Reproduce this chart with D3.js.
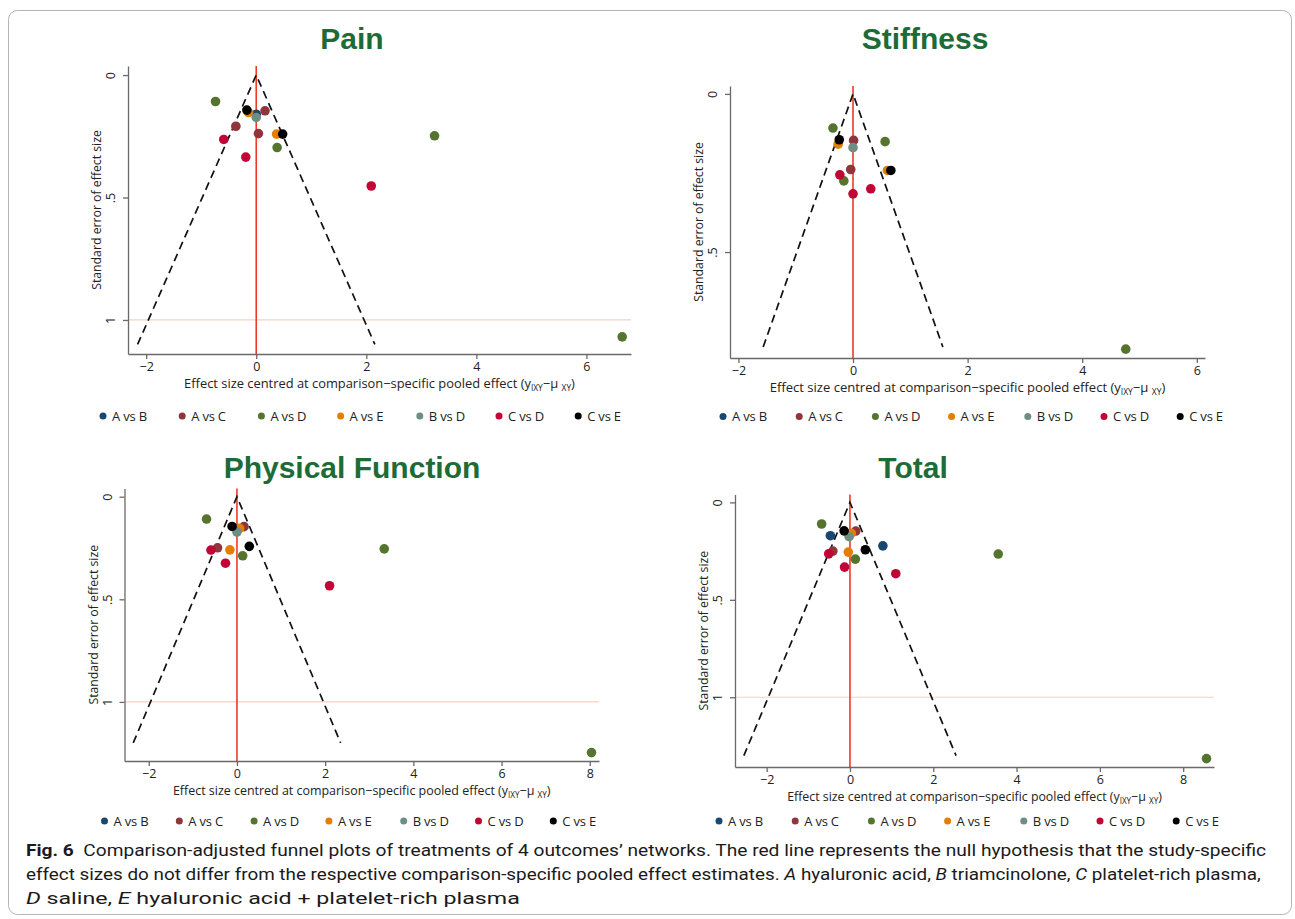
<!DOCTYPE html>
<html>
<head>
<meta charset="utf-8">
<script src="https://cdn.jsdelivr.net/npm/d3@7"></script>
<style>
  html, body { margin: 0; padding: 0; background: #ffffff; }
  svg { display: block; }
  .tick text { font-family: "Open Sans", "Noto Sans", sans-serif; fill: #222; }
</style>
</head>
<body>
<svg id="fig" width="1295" height="919"></svg>
<script>
// Treatment comparisons and their marker colours
const comparisons = ["A vs B", "A vs C", "A vs D", "A vs E", "B vs D", "C vs D", "C vs E"];
const comparisonColors = ["#1a476f", "#90353b", "#55752f", "#e37e00", "#6e8e84", "#c10534", "#000000"];

// Study points: [comparison, centred effect size, standard error]
const painPoints = [
  ["A vs B", 0.00, 0.160],
  ["A vs C", 0.16, 0.146], ["A vs C", -0.37, 0.209], ["A vs C", 0.04, 0.239],
  ["A vs D", -0.74, 0.108], ["A vs D", 0.38, 0.296], ["A vs D", 3.24, 0.248], ["A vs D", 6.65, 1.069],
  ["A vs E", -0.14, 0.153], ["A vs E", 0.37, 0.241],
  ["B vs D", 0.00, 0.173],
  ["C vs D", -0.59, 0.263], ["C vs D", -0.19, 0.335], ["C vs D", 2.09, 0.453],
  ["C vs E", -0.17, 0.143], ["C vs E", 0.48, 0.241]
];
const stiffnessPoints = [
  ["A vs C", 0.01, 0.147], ["A vs C", -0.04, 0.239],
  ["A vs D", -0.35, 0.108], ["A vs D", 0.56, 0.151], ["A vs D", -0.16, 0.275], ["A vs D", 4.76, 0.807],
  ["A vs E", -0.26, 0.159], ["A vs E", 0.60, 0.242],
  ["B vs D", 0.00, 0.170],
  ["C vs D", -0.23, 0.256], ["C vs D", 0.31, 0.300], ["C vs D", 0.00, 0.316],
  ["C vs E", -0.24, 0.145], ["C vs E", 0.66, 0.242]
];
const physicalPoints = [
  ["A vs C", 0.16, 0.146], ["A vs C", -0.44, 0.249],
  ["A vs D", -0.69, 0.109], ["A vs D", 0.13, 0.288], ["A vs D", 3.34, 0.254], ["A vs D", 8.04, 1.247],
  ["A vs E", 0.06, 0.154], ["A vs E", -0.16, 0.259],
  ["B vs D", 0.00, 0.172],
  ["C vs D", -0.59, 0.260], ["C vs D", -0.26, 0.324], ["C vs D", 2.10, 0.434],
  ["C vs E", -0.11, 0.145], ["C vs E", 0.28, 0.242]
];
const totalPoints = [
  ["A vs B", -0.47, 0.171], ["A vs B", 0.79, 0.223],
  ["A vs C", 0.14, 0.147], ["A vs C", -0.41, 0.250],
  ["A vs D", -0.68, 0.111], ["A vs D", 0.13, 0.291], ["A vs D", 3.56, 0.265], ["A vs D", 8.56, 1.315],
  ["A vs E", 0.03, 0.158], ["A vs E", -0.04, 0.255],
  ["B vs D", -0.02, 0.176],
  ["C vs D", -0.51, 0.264], ["C vs D", -0.13, 0.332], ["C vs D", 1.10, 0.366],
  ["C vs E", -0.14, 0.146], ["C vs E", 0.37, 0.243]
];

// Outcome titles, funnel depth (largest SE drawn) and axis ticks
const outcomeTitles = ["Pain", "Stiffness", "Physical Function", "Total"];
const funnelMaxSE = [1.10, 0.80, 1.20, 1.30];
const xTicksShort = [-2, 0, 2, 4, 6];
const xTicksLong = [-2, 0, 2, 4, 6, 8];
const yTicksFull = [0, 0.5, 1];
const yTicksShort = [0, 0.5];
const funnelZ = 1.96;

// Panel geometry (pixel frame + data window for each plot)
const panels = [
  { title: outcomeTitles[0], points: painPoints, maxSE: funnelMaxSE[0], xTicks: xTicksShort, yTicks: yTicksFull,
    xDom: [-2.33, 6.81], yDom: [-0.037, 1.139], left: 128, right: 631, top: 66, bottom: 354,
    titleX: 352, titleY: 49, xTitleLen: 391, legendY: 416, legendX: 103, legendStep: 79.2 },
  { title: outcomeTitles[1], points: stiffnessPoints, maxSE: funnelMaxSE[1], xTicks: xTicksShort, yTicks: yTicksShort,
    xDom: [-2.147, 6.143], yDom: [-0.025, 0.835], left: 730, right: 1205, top: 86, bottom: 358,
    titleX: 925, titleY: 49, xTitleLen: 396, legendY: 416.5, legendX: 723, legendStep: 76.2 },
  { title: outcomeTitles[2], points: physicalPoints, maxSE: funnelMaxSE[2], xTicks: xTicksLong, yTicks: yTicksFull,
    xDom: [-2.55, 8.21], yDom: [-0.04, 1.288], left: 124.5, right: 599, top: 488.5, bottom: 761,
    titleX: 352, titleY: 478, xTitleLen: 378, legendY: 821, legendX: 104.5, legendStep: 74.8 },
  { title: outcomeTitles[3], points: totalPoints, maxSE: funnelMaxSE[3], xTicks: xTicksLong, yTicks: yTicksFull,
    xDom: [-2.76, 8.74], yDom: [-0.041, 1.358], left: 735, right: 1214, top: 494.4, bottom: 767,
    titleX: 913, titleY: 478, xTitleLen: 375, legendY: 821, legendX: 719, legendStep: 76.2 }
];

const svg = d3.select("#fig");
const colorOf = d3.scaleOrdinal().domain(comparisons).range(comparisonColors);
const fmtY = v => v === 0 ? "0" : (v === 1 ? "1" : String(v).replace(/^0/, ""));

// Squeeze a text horizontally so that its advance equals `len`
function fitWidth(sel, len, prefix) {
  const w = sel.node().getComputedTextLength();
  const sx = w > 0 ? len / w : 1;
  sel.attr("transform", `${prefix} scale(${sx},1)`);
}

// Outer frame of the figure
svg.append("rect")
  .attr("x", 8.5).attr("y", 10.5).attr("width", 1283).attr("height", 904)
  .attr("rx", 9).attr("ry", 9)
  .attr("fill", "none").attr("stroke", "#b5b5b5").attr("stroke-width", 1);

panels.forEach(p => {
  const g = svg.append("g");
  const x = d3.scaleLinear().domain(p.xDom).range([p.left, p.right]);
  const y = d3.scaleLinear().domain(p.yDom).range([p.top, p.bottom]);

  // Title
  g.append("text")
    .attr("x", p.titleX).attr("y", p.titleY)
    .attr("text-anchor", "middle")
    .attr("font-family", "'Liberation Sans', Arial, sans-serif")
    .attr("font-weight", "bold").attr("font-size", 30)
    .attr("fill", "#1d6b37")
    .text(p.title);

  // Reference line at SE = 1 (only when inside the window)
  if (p.yDom[1] > 1) {
    g.append("line")
      .attr("x1", p.left).attr("x2", p.right)
      .attr("y1", y(1)).attr("y2", y(1))
      .attr("stroke", "#f2d3c6").attr("stroke-width", 1.2);
  }

  // Null line at zero
  g.append("line")
    .attr("x1", x(0)).attr("x2", x(0))
    .attr("y1", p.top).attr("y2", p.bottom)
    .attr("stroke", "#eb3b24").attr("stroke-width", 1.6);

  // Pseudo 95% confidence funnel
  const funnel = [[-funnelZ * p.maxSE, p.maxSE], [0, 0], [funnelZ * p.maxSE, p.maxSE]];
  g.append("path")
    .attr("d", d3.line().x(d => x(d[0])).y(d => y(d[1]))(funnel))
    .attr("fill", "none").attr("stroke", "#111")
    .attr("stroke-width", 1.7).attr("stroke-dasharray", "8,5");

  // Axes
  const xAxis = g.append("g")
    .attr("transform", `translate(0,${p.bottom})`)
    .call(d3.axisBottom(x).tickValues(p.xTicks).tickSizeInner(5).tickSizeOuter(0)
      .tickFormat(d => d < 0 ? "\u2212" + Math.abs(d) : String(d)));
  xAxis.selectAll("text").attr("font-size", 12.5).attr("dy", "0").attr("y", 17);

  const yAxis = g.append("g")
    .attr("transform", `translate(${p.left},0)`)
    .call(d3.axisLeft(y).tickValues(p.yTicks).tickSizeInner(5).tickSizeOuter(0).tickFormat(fmtY));
  yAxis.selectAll(".tick text")
    .attr("font-size", 12.5)
    .attr("transform", "rotate(-90)")
    .attr("text-anchor", "middle")
    .attr("x", 0).attr("dy", "0").attr("y", -13);

  [xAxis, yAxis].forEach(a => {
    a.select(".domain").attr("stroke", "#6d6868").attr("stroke-width", 1.3);
    a.selectAll(".tick line").attr("stroke", "#6d6868").attr("stroke-width", 1.3);
  });

  // Axis titles
  const xt = g.append("text")
    .attr("x", 0).attr("y", 0)
    .attr("text-anchor", "middle")
    .attr("font-family", "'Open Sans', 'Noto Sans', sans-serif")
    .attr("font-size", 13).attr("fill", "#222");
  xt.append("tspan").text("Effect size centred at comparison\u2212specific pooled effect (y");
  xt.append("tspan").attr("font-size", 8.5).attr("baseline-shift", "-3").text("IXY");
  xt.append("tspan").text("\u2212\u03bc ");
  xt.append("tspan").attr("font-size", 8.5).attr("baseline-shift", "-3").text("XY");
  xt.append("tspan").text(")");
  fitWidth(xt, p.xTitleLen, `translate(${(p.left + p.right) / 2},${p.bottom + 34})`);

  const yt = g.append("text")
    .attr("x", 0).attr("y", 0)
    .attr("text-anchor", "middle")
    .attr("font-family", "'Open Sans', 'Noto Sans', sans-serif")
    .attr("font-size", 13).attr("fill", "#222")
    .text("Standard error of effect size");
  fitWidth(yt, 160, `translate(${p.left - 27},${(p.top + p.bottom) / 2}) rotate(-90)`);

  // Study markers, drawn in comparison order
  const pts = p.points.slice().sort((a, b) => comparisons.indexOf(a[0]) - comparisons.indexOf(b[0]));
  g.append("g").selectAll("circle")
    .data(pts)
    .join("circle")
    .attr("cx", d => x(d[1]))
    .attr("cy", d => y(d[2]))
    .attr("r", 4.8)
    .attr("fill", d => colorOf(d[0]));

  // Legend
  const lg = g.append("g").selectAll("g")
    .data(comparisons)
    .join("g")
    .attr("transform", (d, i) => `translate(${p.legendX + i * p.legendStep},${p.legendY})`);
  lg.append("circle").attr("r", 3.5).attr("fill", d => colorOf(d));
  lg.append("text")
    .attr("x", 9).attr("dy", "0.35em")
    .attr("font-family", "'Open Sans', 'Noto Sans', sans-serif")
    .attr("font-size", 13).attr("fill", "#222")
    .attr("letter-spacing", -0.2)
    .text(d => d);
});

// Figure caption
const capFont = "'Liberation Sans Narrow', 'Roboto', 'Noto Sans', sans-serif";
const capLines = [
  { y: 856, len: 1241, parts: [
    { t: "Fig. 6", b: true }, { t: "\u00a0 Comparison-adjusted funnel plots of treatments of 4 outcomes\u2019 networks. The red line represents the null hypothesis that the study-specific" }
  ]},
  { y: 880, len: 1236, parts: [
    { t: "effect sizes do not differ from the respective comparison-specific pooled effect estimates. " },
    { t: "A", i: true }, { t: " hyaluronic acid, " }, { t: "B", i: true }, { t: " triamcinolone, " },
    { t: "C", i: true }, { t: " platelet-rich plasma," }
  ]},
  { y: 904, len: 494, parts: [
    { t: "D", i: true }, { t: " saline, " }, { t: "E", i: true }, { t: " hyaluronic acid + platelet-rich plasma" }
  ]}
];
capLines.forEach(line => {
  const t = svg.append("text")
    .attr("x", 0).attr("y", 0)
    .attr("font-family", capFont).attr("font-size", 17).attr("fill", "#1a1a1a");
  line.parts.forEach(part => {
    t.append("tspan")
      .attr("font-weight", part.b ? "bold" : null)
      .attr("font-style", part.i ? "italic" : null)
      .text(part.t);
  });
  fitWidth(t, line.len, `translate(26,${line.y})`);
});
</script>
</body>
</html>
